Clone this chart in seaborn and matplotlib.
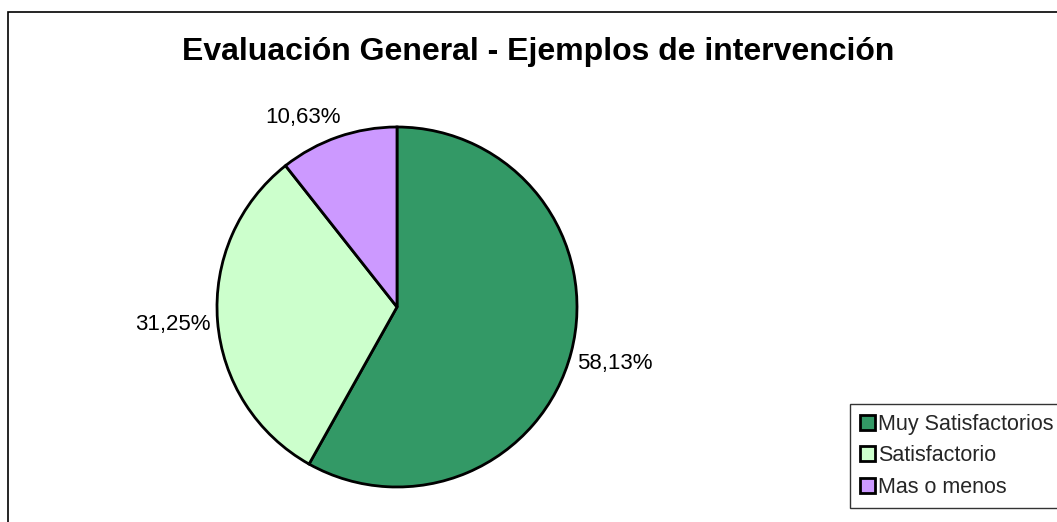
import matplotlib
matplotlib.use("Agg")
import matplotlib.pyplot as plt
import matplotlib.patches as mpatches
import seaborn as sns

# data
categories = ["Muy Satisfactorios", "Satisfactorio", "Mas o menos"]
percentages = [58.13, 31.25, 10.63]
colors = ["#339966", "#CCFFCC", "#CC99FF"]
title = "Evaluación General - Ejemplos de intervención"

sns.set_theme(style="white")
plt.rcParams['font.family'] = ['Liberation Sans', 'DejaVu Sans']

fig = plt.figure(figsize=(10.57, 5.22), dpi=100)

# pie axes: centre ~(397, 307) px, radius ~180 px
r_px = 180
lim = 1.3
w = 2 * lim * r_px / 1057
h = 2 * lim * r_px / 522
cx, cy = 397 / 1057, 1 - 307 / 522
ax = fig.add_axes([cx - w / 2, cy - h / 2, w, h])

labels = [f"{p:.2f}%".replace(".", ",") for p in percentages]
wedges, texts = ax.pie(percentages, colors=colors, startangle=90, counterclock=False,
                       labels=labels, labeldistance=1.25,
                       wedgeprops=dict(edgecolor="black", linewidth=2))
for t in texts:
    t.set_fontsize(16)
    t.set_color("black")
    t.set_ha("center")
    t.set_va("center")
# Excel puts the small slice label a bit further round
x, y = texts[2].get_position()
texts[2].set_position((x - 0.11, y - 0.13))

ax.set_xlim(-lim, lim)
ax.set_ylim(-lim, lim)
ax.set_aspect("equal")
ax.axis("off")

fig.text(538 / 1057, 1 - 60 / 522, title, ha="center", va="baseline",
         fontsize=23, fontweight="bold", color="black")

# outer chart frame
fig.patches.append(mpatches.Rectangle((8 / 1057, -0.05), 1.2, 1 - 12 / 522 + 0.05,
                                      transform=fig.transFigure, fill=False,
                                      edgecolor="black", linewidth=1.2))

handles = [mpatches.Patch(facecolor=c, edgecolor="black", linewidth=2) for c in colors]
leg = fig.legend(handles, categories, loc="upper left",
                 bbox_to_anchor=(850 / 1057, 1 - 404 / 522),
                 fontsize=15.5, frameon=True, fancybox=False, handlelength=0.7,
                 handleheight=0.7, handletextpad=0.15, labelspacing=0.5,
                 borderpad=0.45, borderaxespad=0)
leg.get_frame().set_edgecolor("black")
leg.get_frame().set_linewidth(1.0)

fig.savefig("out.png", dpi=100)
